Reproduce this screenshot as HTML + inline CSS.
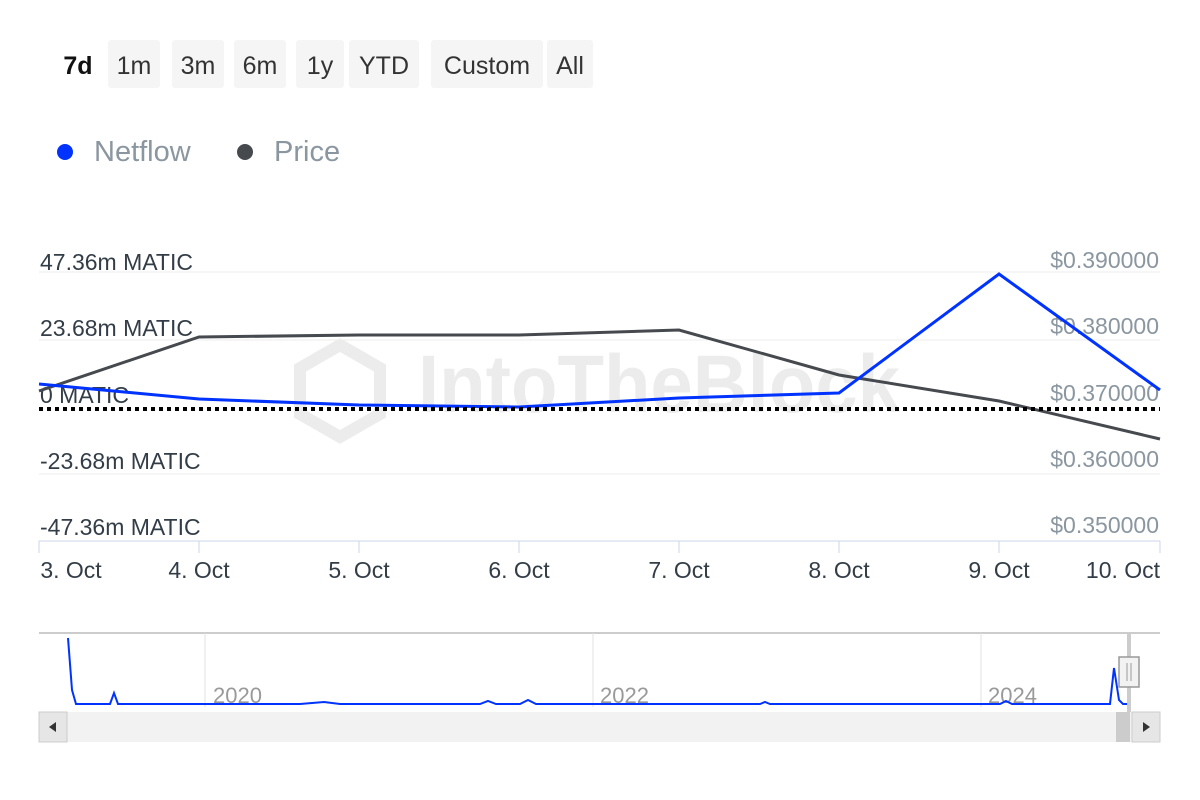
<!DOCTYPE html>
<html><head><meta charset="utf-8"><style>
body{margin:0;background:#fff;width:1200px;height:800px;overflow:hidden;font-family:"Liberation Sans",sans-serif}
.btn{position:absolute;top:40px;height:48px;background:#f5f5f5;border-radius:3px;font-size:25px;color:#333;line-height:52px;text-align:center}
</style></head><body>
<div class="btn" style="left:52px;width:52px;background:none;font-weight:bold;color:#111">7d</div>
<div class="btn" style="left:108px;width:52px">1m</div>
<div class="btn" style="left:172px;width:52px">3m</div>
<div class="btn" style="left:234px;width:52px">6m</div>
<div class="btn" style="left:296px;width:48px">1y</div>
<div class="btn" style="left:349px;width:70px">YTD</div>
<div class="btn" style="left:431px;width:112px">Custom</div>
<div class="btn" style="left:547px;width:46px">All</div>
<svg width="1200" height="800" style="position:absolute;left:0;top:0" font-family="Liberation Sans, sans-serif">
<circle cx="65" cy="152" r="8" fill="#0033ff"/>
<text x="94" y="161" font-size="29" fill="#8a96a0">Netflow</text>
<circle cx="245" cy="152" r="8" fill="#464a4f"/>
<text x="274" y="161" font-size="29" fill="#8a96a0">Price</text>
<g fill="#ececec">
<path d="M340,345 L380,368 L380,414 L340,437 L300,414 L300,368Z" fill="none" stroke="#ececec" stroke-width="12"/>
<text x="418" y="412" font-size="82" font-weight="bold" textLength="482" lengthAdjust="spacingAndGlyphs">IntoTheBlock</text>
</g>
<g stroke="#eeeeee" stroke-width="1">
<line x1="39" y1="272" x2="1160" y2="272"/><line x1="39" y1="340" x2="1160" y2="340"/>
<line x1="39" y1="474" x2="1160" y2="474"/>
</g>
<line x1="39" y1="541" x2="1160" y2="541" stroke="#ccd6eb" stroke-width="1"/>
<g stroke="#ccd6eb"><line x1="39" y1="541" x2="39" y2="553"/><line x1="199" y1="541" x2="199" y2="553"/><line x1="359" y1="541" x2="359" y2="553"/><line x1="519" y1="541" x2="519" y2="553"/><line x1="679" y1="541" x2="679" y2="553"/><line x1="839" y1="541" x2="839" y2="553"/><line x1="999" y1="541" x2="999" y2="553"/><line x1="1160" y1="541" x2="1160" y2="553"/></g>
<g font-size="23" fill="#333d47">
<text x="40" y="270">47.36m MATIC</text><text x="40" y="336">23.68m MATIC</text><text x="40" y="403">0 MATIC</text><text x="40" y="469">-23.68m MATIC</text><text x="40" y="535">-47.36m MATIC</text>
</g>
<g font-size="23" fill="#8a96a0" text-anchor="end">
<text x="1159" y="268">$0.390000</text><text x="1159" y="334">$0.380000</text><text x="1159" y="401">$0.370000</text><text x="1159" y="467">$0.360000</text><text x="1159" y="533">$0.350000</text>
</g>
<g font-size="23" fill="#333d47" text-anchor="middle">
<text x="71" y="578">3. Oct</text><text x="199" y="578">4. Oct</text><text x="359" y="578">5. Oct</text><text x="519" y="578">6. Oct</text><text x="679" y="578">7. Oct</text><text x="839" y="578">8. Oct</text><text x="999" y="578">9. Oct</text><text x="1123" y="578">10. Oct</text>
</g>
<polyline points="39,391 199,337 359,335 519,335 679,330 839,375 999,401 1160,439" fill="none" stroke="#464a4f" stroke-width="3"/>
<polyline points="39,384 199,399 359,405 519,407 679,398 839,393 999,274 1160,390" fill="none" stroke="#0033ff" stroke-width="3"/>
<line x1="39" y1="409" x2="1160" y2="409" stroke="#000" stroke-width="4" stroke-dasharray="4,4"/>
<line x1="39" y1="633" x2="1160" y2="633" stroke="#ccc" stroke-width="2"/>
<g stroke="#e2e2e2"><line x1="205" y1="633" x2="205" y2="707"/><line x1="593" y1="633" x2="593" y2="707"/><line x1="981" y1="633" x2="981" y2="707"/></g>
<g font-size="22" fill="#999"><text x="213" y="703">2020</text><text x="600" y="703">2022</text><text x="988" y="703">2024</text></g>
<polyline points="68,638 72,690 76,704 110,704 114,693 118,704 150,704 300,704 324,702 340,704 480,704 488,701 496,704 520,704 528,700 536,704 760,704 765,702 770,704 1000,704 1006,701 1012,704 1110,704 1114,668 1119,700 1123,704 1130,704" fill="none" stroke="#0033ff" stroke-width="2"/>
<rect x="1127" y="633" width="4" height="108" fill="#ccc"/>
<rect x="1119" y="657" width="20" height="30" fill="#f2f2f2" stroke="#999" stroke-width="1.5"/>
<line x1="1127" y1="663" x2="1127" y2="681" stroke="#999"/><line x1="1131" y1="663" x2="1131" y2="681" stroke="#999"/>
<rect x="39" y="712" width="1121" height="30" fill="#f2f2f2"/>
<rect x="39" y="712" width="28" height="30" fill="#e6e6e6" stroke="#ccc"/>
<path d="M49,727 L56,722 L56,732Z" fill="#333"/>
<rect x="1116" y="712" width="14" height="30" fill="#ccc"/>
<rect x="1132" y="712" width="28" height="30" fill="#e6e6e6" stroke="#ccc"/>
<path d="M1150,727 L1143,722 L1143,732Z" fill="#333"/>
</svg>
</body></html>
